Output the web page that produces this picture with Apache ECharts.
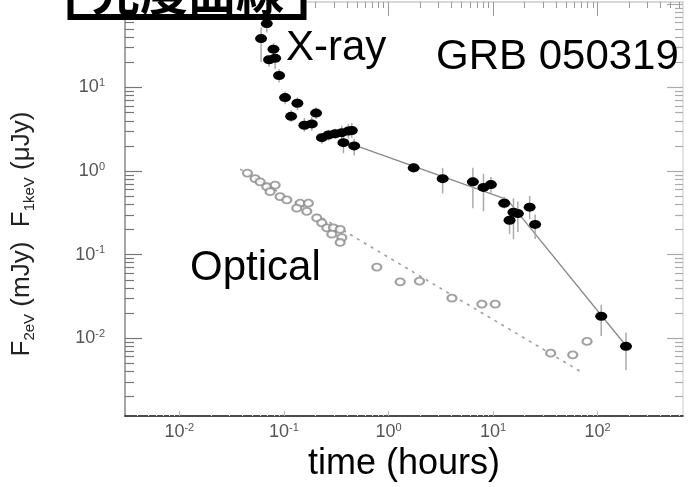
<!DOCTYPE html>
<html><head><meta charset="utf-8">
<script src="https://cdn.jsdelivr.net/npm/echarts@6/dist/echarts.min.js"></script>
<style>html,body{margin:0;padding:0;background:#fff}#c{width:700px;height:487px}</style>
</head><body><div id="c"></div>
<script>
// X-ray (filled circles), time in hours, flux in µJy
const xrayTime  = [0.0686,0.0605,0.0795,0.0824,0.0721,0.0899,0.1026,0.1346,0.1172,0.2032,0.157,0.185,0.2307,0.2668,0.309,0.358,0.414,0.446,0.371,0.470,1.742,3.30,6.42,8.11,9.55,12.8,15.7,17.3,14.4,22.4,25.3,108.4,187];
const xrayFlux  = [58.2,38.5,28.8,22.4,21.5,13.95,7.57,6.49,4.52,4.94,3.54,3.67,2.51,2.70,2.80,2.88,3.01,3.06,2.19,2.00,1.094,0.811,0.743,0.637,0.689,0.412,0.321,0.310,0.258,0.370,0.2297,0.01828,0.00798];
const xrayErrLo = [45.6,20.2,24.4,16.7,17.7,11.45,6.31,5.36,3.87,4.21,2.96,3.04,2.13,2.32,2.44,2.38,2.44,2.51,1.63,1.54,0.947,0.541,0.360,0.330,0.551,0.357,0.153,0.187,0.177,0.265,0.154,0.01064,0.00412];
const xrayErrHi = [64.9,52.2,33.8,27.2,24.4,16.7,8.97,7.63,5.36,5.82,4.32,4.44,2.88,3.12,3.20,3.48,3.67,3.77,2.65,2.44,1.24,1.094,1.094,0.929,0.850,0.494,0.472,0.432,0.321,0.504,0.303,0.0251,0.01167];
// X-ray broken power-law fit
const xrayFitTime = [0.430,13.7,188];
const xrayFitFlux = [2.135,0.456,0.00806];
// Optical (open circles), flux in mJy
const opticalTime = [0.0448,0.0530,0.0592,0.0686,0.0824,0.0738,0.0920,0.1067,0.1429,0.1715,0.1328,0.1656,0.2064,0.2305,0.2575,0.2978,0.3453,0.2872,0.3583,0.345,0.774,1.294,1.98,4.05,7.83,10.5,35.6,57.9,79.3];
const opticalFlux = [0.947,0.812,0.743,0.649,0.679,0.566,0.494,0.452,0.412,0.412,0.360,0.330,0.275,0.240,0.2095,0.2095,0.2004,0.1754,0.160,0.1397,0.0709,0.0472,0.0481,0.0301,0.0256,0.0256,0.00661,0.00631,0.00914];
const opticalFitTime = [0.0381,71.5];
const opticalFitFlux = [1.056,0.00387];
// axes
const xTickValues = [0.01,0.1,1,10,100];
const yTickValues = [0.01,0.1,1,10];
const xMin = 0.003022, xMax = 656.4;
const yMin = 0.001167, yMax = 105.6;

function minors(lo, hi){
  const out=[];
  for(let e=lo;e<=hi;e++){for(let k=2;k<=9;k++){out.push(k*Math.pow(10,e));}}
  return out;
}
const xMinor = minors(-3,2);
const yMinor = minors(-3,2);
const xMajorAll = [0.001,0.01,0.1,1,10,100];
const yMajorAll = [0.001,0.01,0.1,1,10,100];

const labelRich = {
  b:{fontSize:18,lineHeight:20,color:'#555',fontFamily:'Liberation Sans'},
  s:{fontSize:11,lineHeight:13,verticalAlign:'top',color:'#555',fontFamily:'Liberation Sans'}
};
const fmt = v => '{b|10}{s|' + Math.round(Math.log10(v)) + '}';

function xAx(pos, ticks, len, color, showLine, lineColor, labels){
  return {type:'log',logBase:10,min:xMin,max:xMax,position:pos,gridIndex:0,
    splitLine:{show:false},
    axisLine:{show:showLine,lineStyle:{color:lineColor||'#000',width:1.5}},
    axisTick:{show:true,inside:true,length:len,customValues:ticks,lineStyle:{color:color,width:1}},
    axisLabel:labels?{show:true,customValues:xTickValues,formatter:fmt,rich:labelRich,margin:6}:{show:false},
  };
}
function yAx(pos, ticks, len, color, showLine, lineColor, labels){
  return {type:'log',logBase:10,min:yMin,max:yMax,position:pos,gridIndex:0,
    splitLine:{show:false},
    axisLine:{show:showLine,lineStyle:{color:lineColor||'#000',width:1.5}},
    axisTick:{show:true,inside:true,length:len,customValues:ticks,lineStyle:{color:color,width:1.2}},
    axisLabel:labels?{show:true,customValues:yTickValues,formatter:fmt,rich:labelRich,margin:20}:{show:false},
  };
}

const xAxes = [
  xAx('bottom', xMajorAll, 5, '#bbb', true, '#111', true),
  xAx('bottom', xMinor, 2, '#e6e6e6', false),
  xAx('top', xMajorAll, 14, '#999', true, '#ccc', false),
  xAx('top', xMinor, 6, '#999', false)
];
xAxes[0].name = 'time (hours)';
xAxes[0].nameLocation = 'middle';
xAxes[0].nameGap = 22;
xAxes[0].nameTextStyle = {fontSize:36,color:'#000',fontFamily:'Liberation Sans',verticalAlign:'top'};

const yAxes = [
  yAx('left', yMajorAll, 17, '#777', true, '#888', true),
  yAx('left', yMinor, 9, '#777', false),
  yAx('right', yMajorAll, 16, '#aaa', true, '#ddd', false),
  yAx('right', yMinor, 8, '#aaa', false)
];
yAxes[0].name = '{n|F}{sub|2eV}{n| (mJy)  F}{sub|1keV}{n| (μJy)}';
yAxes[0].nameLocation = 'middle';
yAxes[0].nameRotate = 90;
yAxes[0].nameGap = 88;
yAxes[0].nameTextStyle = {color:'#222',padding:[0,50,0,0],rich:{
  n:{fontSize:26,lineHeight:30,fontFamily:'Liberation Sans',color:'#222'},
  sub:{fontSize:15,lineHeight:16,verticalAlign:'bottom',fontFamily:'Liberation Sans',color:'#222'}
}};

const errData = xrayTime.map((t,i)=>[t, xrayErrLo[i], xrayErrHi[i]]);

const option = {
  animation:false,
  backgroundColor:'#fff',
  grid:{left:125,right:17,top:2,bottom:64,containLabel:false},
  xAxis:xAxes,
  yAxis:yAxes,
  series:[
    {type:'line',xAxisIndex:0,yAxisIndex:0,data:opticalFitTime.map((t,i)=>[t,opticalFitFlux[i]]),
      showSymbol:false,symbol:'none',lineStyle:{color:'#a0a0a0',width:1.6,type:[3,5]},z:2},
    {type:'line',xAxisIndex:0,yAxisIndex:0,data:xrayFitTime.map((t,i)=>[t,xrayFitFlux[i]]),
      showSymbol:false,symbol:'none',lineStyle:{color:'#888',width:1.3},z:2},
    {type:'custom',xAxisIndex:0,yAxisIndex:0,data:errData,encode:{x:0,y:[1,2]},z:3,
      renderItem:function(params,api){
        const p1=api.coord([api.value(0),api.value(1)]);
        const p2=api.coord([api.value(0),api.value(2)]);
        return {type:'line',shape:{x1:p1[0],y1:p1[1],x2:p2[0],y2:p2[1]},style:{stroke:'#aaa',lineWidth:1.5}};
      }},
    {type:'scatter',xAxisIndex:0,yAxisIndex:0,data:opticalTime.map((t,i)=>[t,opticalFlux[i]]),
      symbol:'emptyCircle',symbolSize:[9,7],itemStyle:{color:'#8a8a8a',borderColor:'#8a8a8a',borderWidth:1.2},z:4},
    {type:'scatter',xAxisIndex:0,yAxisIndex:0,data:xrayTime.map((t,i)=>[t,xrayFlux[i]]),
      symbol:'circle',symbolSize:[12,9],itemStyle:{color:'#000',opacity:1},z:5}
  ],
  graphic:[
    {type:'rect',z:100,shape:{x:70.5,y:-40,width:233,height:57},style:{fill:'#fff',stroke:'#000',lineWidth:6}},
    {type:'text',z:101,x:188,y:16,style:{text:'光度曲線',fontSize:48,fontWeight:'bold',fontFamily:'Noto Sans CJK JP',align:'center',verticalAlign:'bottom',fill:'#000'}},
    {type:'text',z:50,x:286,y:48,style:{text:'X-ray',fontSize:42,fontFamily:'Liberation Sans',align:'left',verticalAlign:'middle',fill:'#000'}},
    {type:'text',z:50,x:436,y:57,style:{text:'GRB 050319',fontSize:42,fontFamily:'Liberation Sans',align:'left',verticalAlign:'middle',fill:'#000'}},
    {type:'text',z:50,x:190,y:268,style:{text:'Optical',fontSize:42,fontFamily:'Liberation Sans',align:'left',verticalAlign:'middle',fill:'#000'}}
  ]
};
const chart = echarts.init(document.getElementById('c'),null,{renderer:'canvas'});
chart.setOption(option);
</script></body></html>
